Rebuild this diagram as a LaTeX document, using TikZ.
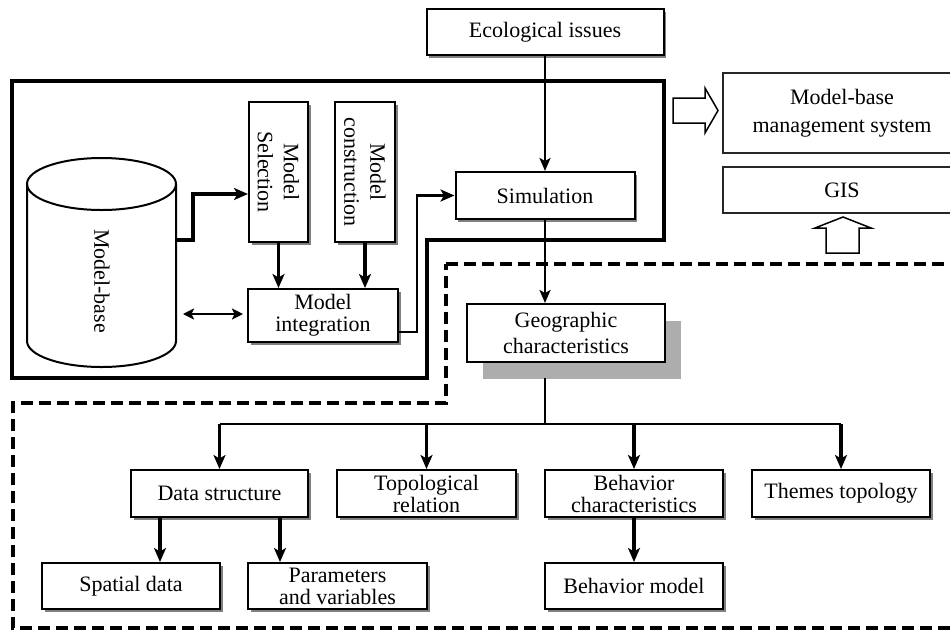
\documentclass[tikz,border=0pt]{standalone}
\usepackage{fontspec}
\setmainfont{Liberation Serif}
\usetikzlibrary{arrows.meta,shadows}
\begin{document}
\begin{tikzpicture}[x=1pt,y=-1pt,
  every node/.style={font=\fontsize{22}{26}\selectfont},
  box/.style={draw, line width=2pt, fill=white, inner sep=0pt, align=center,
    drop shadow={shadow xshift=2.5pt, shadow yshift=-2.5pt, fill=black!50, opacity=1}},
  flat/.style={draw=black!85, line width=1.8pt, fill=white, inner sep=0pt, align=center},
  tight/.style={font=\fontsize{22}{22}\selectfont},
  loose/.style={font=\fontsize{22}{28}\selectfont},
  lbl/.style={inner sep=0pt, align=center},
  conn/.style={line width=3.2pt, -{Stealth[length=14pt,width=12pt,inset=3.5pt]}},
  thinconn/.style={line width=2.4pt, -{Stealth[length=13pt,width=11pt,inset=3pt]}},
  busline/.style={line width=1.8pt},
  frame/.style={line width=4pt, line join=miter},
  dashframe/.style={line width=4.8pt, dash pattern=on 12pt off 6pt},
  hollow/.style={draw, line width=1.5pt, fill=white, line join=miter}
]
\useasboundingbox (0,0) rectangle (950,630);
\fill[white] (0,0) rectangle (950,630);
\clip (0,0) rectangle (950,630);

% outer frames
\draw[frame] (12,81) -- (664,81) -- (664,240) -- (427,240) -- (427,378) -- (12,378) -- cycle;
\draw[dashframe] (446,264) -- (975,264) -- (975,628) -- (13,628) -- (13,403) -- (446,403) -- cycle;

% model-base cylinder
\draw[line width=2pt, fill=white] (27,184) -- (27,341)
  arc[start angle=180, end angle=360, x radius=74.5pt, y radius=26pt] -- (176,184)
  arc[start angle=0, end angle=180, x radius=74.5pt, y radius=26pt] -- cycle;
\draw[line width=2pt] (27,184) arc[start angle=180, end angle=360, x radius=74.5pt, y radius=26pt];
\node[lbl, rotate=-90] (mbase) at (102,281) {Model-base};

% upper boxes
\node[box, minimum width=237pt, minimum height=46pt] (eco) at (545,32) {Ecological issues};
\node[box, minimum width=179pt, minimum height=47pt] (sim) at (545,195.5) {Simulation};
\node[box, minimum width=59pt, minimum height=140pt] (msel) at (278.5,172) {};
\node[lbl, rotate=-90] (msel-t) at (msel.center) {Model\\Selection};
\node[box, minimum width=60pt, minimum height=140pt] (mcon) at (365,172) {};
\node[lbl, rotate=-90] (mcon-t) at (mcon.center) {Model\\construction};
\node[box, tight, minimum width=150pt, minimum height=53pt] (mint) at (323,315.5) {Model\\integration};

\node[flat, loose, minimum width=238pt, minimum height=80pt] (mbms) at (842,113) {Model-base\\management system};
\node[flat, minimum width=238pt, minimum height=46pt] (gis) at (842,190) {GIS};

\node[draw, line width=2pt, fill=white, align=center, inner sep=0pt,
  minimum width=198pt, minimum height=58pt,
  drop shadow={shadow xshift=16pt, shadow yshift=-17pt, fill=black!32, opacity=1}]
  (geo) at (566,333) {Geographic\\characteristics};

% lower boxes
\node[box, minimum width=177pt, minimum height=47pt] (ds) at (219.5,493.5) {Data structure};
\node[box, tight, minimum width=179pt, minimum height=47pt] (topo) at (426.5,493.5) {Topological\\relation};
\node[box, tight, minimum width=178pt, minimum height=47pt] (bchar) at (634,493.5) {Behavior\\characteristics};
\node[box, minimum width=178pt, minimum height=47pt] (themes) at (841,493.5) {Themes topology};
\node[box, minimum width=178pt, minimum height=46pt] (spatial) at (131,586) {Spatial data};
\node[box, tight, minimum width=179pt, minimum height=46pt] (params) at (337.5,586) {Parameters\\and variables};
\node[box, minimum width=178pt, minimum height=46pt] (bmodel) at (634,586) {Behavior model};

% connectors in the model frame
\coordinate (cylR) at (176,240);
\coordinate (j1) at (193,194);
\draw[conn] (cylR) -| (j1) -- (j1 -| msel.west);
\draw[conn] (msel.south) -- (msel.south |- mint.north);
\draw[conn] (mcon.south) -- (mcon.south |- mint.north);
\coordinate (dA) at (183,314);
\coordinate (dB) at (243,314);
\draw[line width=2.6pt, {Stealth[length=11pt,width=11pt,inset=2.5pt]}-{Stealth[length=11pt,width=11pt,inset=2.5pt]}] (dA) -- (dB);
\coordinate (j2) at (417,195.5);
\draw[conn, line width=2.6pt] ([yshift=-16.5pt]mint.east) -| (j2) -- (sim.west);

% main flow
\draw[thinconn] (eco.south) -- (sim.north);
\draw[thinconn] (sim.south) -- (sim.south |- geo.north);
\coordinate (stem) at (545,378);
\coordinate (bus) at (545,424);
\draw[busline] (stem) -- (bus);
\draw[busline] (ds.north |- bus) -- (themes.north |- bus);
\draw[conn] (ds.north |- bus) -- (ds.north);
\draw[conn] (topo.north |- bus) -- (topo.north);
\draw[conn] (bchar.north |- bus) -- (bchar.north);
\draw[conn] (themes.north |- bus) -- (themes.north);
\draw[conn] ([xshift=30pt]ds.south west) -- ([xshift=30pt]ds.south west |- spatial.north);
\draw[conn] ([xshift=-29pt]ds.south east) -- ([xshift=-29pt]ds.south east |- params.north);
\draw[conn] (bchar.south) -- (bmodel.north);

% hollow arrows
\draw[hollow] (673,98) -- (705,98) -- (705,88) -- (718,110.5) -- (705,133) -- (705,123) -- (673,123) -- cycle;
\draw[hollow] (826,253) -- (826,228) -- (815,228) -- (843,217) -- (871,228) -- (859,228) -- (859,253) -- cycle;
\end{tikzpicture}
\end{document}
